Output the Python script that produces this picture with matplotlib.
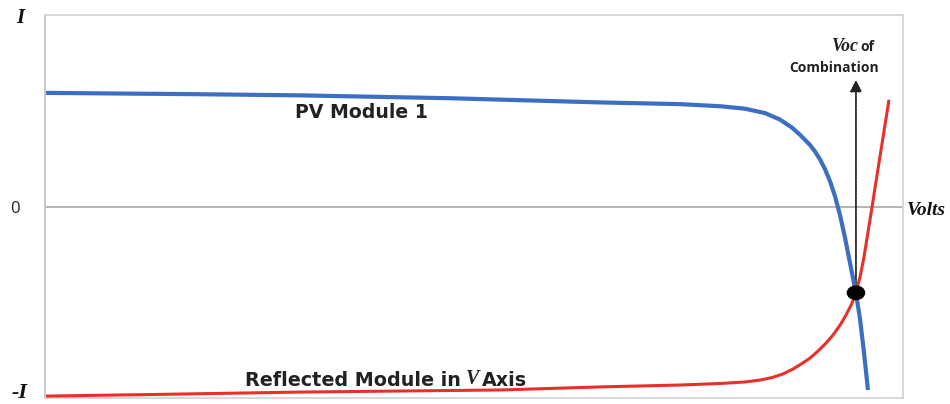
import matplotlib.pyplot as plt
from matplotlib.patches import Ellipse
from matplotlib.transforms import offset_copy

# PV module 1 I-V curve (arbitrary volts / normalised current)
pv_v = [0.12, 18.07, 29.72, 47.20, 64.69, 74.01, 78.67, 81.59, 83.92, 85.66,
        87.06, 88.00, 89.16, 89.74, 90.33, 90.91, 91.49, 92.07, 92.66, 93.24,
        93.82, 94.52, 94.99, 95.45, 95.92]
pv_i = [0.601, 0.594, 0.588, 0.573, 0.551, 0.542, 0.531, 0.518, 0.495, 0.461,
        0.419, 0.381, 0.328, 0.294, 0.252, 0.201, 0.138, 0.060, -0.040, -0.158,
        -0.290, -0.450, -0.585, -0.759, -0.958]

# module reflected in V axis
ref_v = [0.12, 12.24, 29.72, 53.03, 64.69, 74.01, 78.67, 81.59, 83.33, 84.73,
         86.01, 87.18, 88.23, 89.16, 90.09, 91.03, 91.84, 92.66, 93.36, 94.06,
         94.52, 94.99, 95.45, 95.92, 96.39, 96.97, 97.67, 98.37]
ref_i = [-0.990, -0.982, -0.969, -0.958, -0.942, -0.932, -0.924, -0.916, -0.906,
         -0.893, -0.874, -0.848, -0.819, -0.791, -0.754, -0.712, -0.670, -0.618,
         -0.565, -0.503, -0.447, -0.366, -0.262, -0.131, 0.0, 0.168, 0.366, 0.565]

# operating point of the combination and Voc arrow tip
op_v, op_i = 94.52, -0.448
arrow_top = 0.670

fig = plt.figure(figsize=(9.5, 4.04), dpi=100)
ax = fig.add_axes([0.0474, 0.0149, 0.9031, 0.9481])

ax.set_xlim(0, 100)
ax.set_ylim(-1.0, 1.01)
ax.set_xticks([])
ax.set_yticks([])
for s in ax.spines.values():
    s.set_color("#d4d4d4")
    s.set_linewidth(1.3)
ax.spines["left"].set_color("#c4c4c4")

ax.axhline(0, color="#b0b0b0", linewidth=1.3, zorder=1)

ax.plot(pv_v, pv_i, color="#3c6fc4", linewidth=3.0, solid_capstyle="butt",
        solid_joinstyle="round", zorder=3)
ax.plot(ref_v, ref_i, color="#e8302a", linewidth=2.2, solid_capstyle="butt",
        solid_joinstyle="round", zorder=3)

ax.annotate("", xy=(op_v, arrow_top), xytext=(op_v, op_i),
            arrowprops=dict(arrowstyle="-|>,head_length=0.7,head_width=0.35",
                            linestyle=(0, (1, 0.8)), color="#222222", lw=1.3,
                            shrinkA=0, shrinkB=0), zorder=2)

ax.add_patch(Ellipse((op_v, op_i), 2.0, 0.07, color="black", zorder=5))

sans = "DejaVu Sans"
small = "Open Sans"
serif = "Liberation Serif"
txt = "#222222"

ax.text(36.9, 0.497, "PV Module 1", fontsize=13.6, fontweight="bold",
        family=sans, color=txt, ha="center", va="center")

# "Reflected Module in V Axis" built from pieces placed one after another
fig.canvas.draw()
r = fig.canvas.get_renderer()
t1 = ax.text(23.3, -0.906, "Reflected Module in", fontsize=13.8, fontweight="bold",
             family=sans, color=txt, ha="left", va="center")
w1 = t1.get_window_extent(r).width
t2 = ax.text(23.3, -0.900, "V", fontsize=14.5, fontweight="bold", fontstyle="italic",
             family=serif, color=txt, ha="left", va="center",
             transform=offset_copy(ax.transData, fig, x=w1 + 5, y=0, units="dots"))
w2 = t2.get_window_extent(r).width
ax.text(23.3, -0.906, "Axis", fontsize=13.8, fontweight="bold",
        family=sans, color=txt, ha="left", va="center",
        transform=offset_copy(ax.transData, fig, x=w1 + w2 + 8, y=0, units="dots"))

ax.text(94.9, 0.843, "Voc", fontsize=13, fontweight="bold", fontstyle="italic",
        family=serif, color=txt, ha="right", va="center")
ax.text(95.0, 0.840, "of", fontsize=10, fontweight="bold",
        family=small, color=txt, ha="left", va="center")
ax.text(92.0, 0.733, "Combination", fontsize=10, fontweight="bold",
        family=small, color=txt, ha="center", va="center")

fig.text(0.021, 0.955, "I", fontsize=15, fontweight="bold", fontstyle="italic",
         family=serif, color="#111111", ha="center", va="center")
fig.text(0.016, 0.483, "0", fontsize=12, family=small, color=txt,
         ha="center", va="center")
fig.text(0.021, 0.026, "-I", fontsize=16, fontweight="bold", fontstyle="italic",
         family=serif, color="#111111", ha="center", va="center")
fig.text(0.955, 0.480, "Volts", fontsize=14, fontweight="bold", fontstyle="italic",
         family=serif, color="#111111", ha="left", va="center")

fig.savefig("out.png", dpi=100, facecolor="white")
